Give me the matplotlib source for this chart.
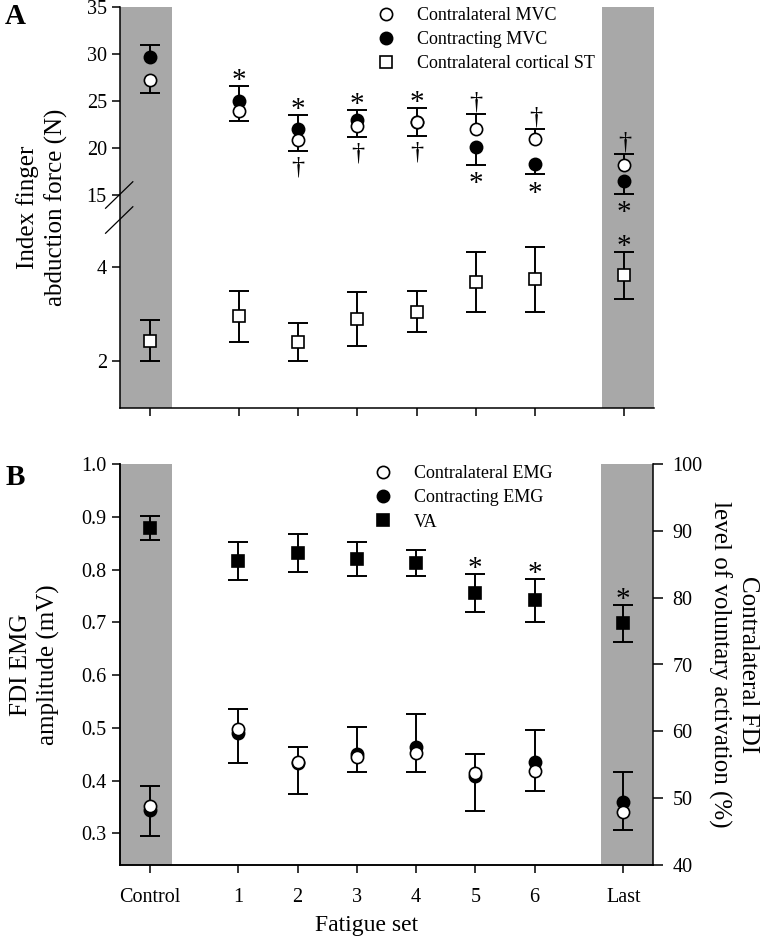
import matplotlib
matplotlib.use('Agg')
import matplotlib.pyplot as plt
import numpy as np

plt.rcParams['font.family'] = ['Liberation Serif', 'DejaVu Serif']

# x layout: control and last set sit apart from the six fatigue sets
x_pos = [-0.5, 1, 2, 3, 4, 5, 6, 7.5]
x_labels = ['Control', '1', '2', '3', '4', '5', '6', 'Last']

# Panel A - index finger abduction force (N)
contra_mvc = [27.2, 23.9, 20.85, 22.3, 22.8, 22.0, 21.0, 18.2]
contra_mvc_lo = [1.4, 1.05, 1.15, 1.1, 1.5, 0, 0, 0]
contra_mvc_hi = [0, 0, 0, 0, 0, 1.6, 1.05, 1.2]
contr_mvc = [29.7, 25.0, 22.0, 23.0, 22.8, 20.1, 18.3, 16.5]
contr_mvc_lo = [0, 0, 0, 0, 0, 1.9, 1.1, 1.4]
contr_mvc_hi = [1.3, 1.6, 1.55, 1.0, 1.5, 0, 0, 0]
st = [2.43, 2.95, 2.40, 2.89, 3.05, 3.68, 3.74, 3.82]
st_err = [0.44, 0.55, 0.41, 0.57, 0.44, 0.64, 0.69, 0.5]
a_above = ['', '*', '*', '*', '*', '\u2020', '\u2020', '\u2020']
a_below = ['', '', '\u2020', '\u2020', '\u2020', '*', '*', '*']
st_above = ['', '', '', '', '', '', '', '*']

# Panel B - EMG (mV) and voluntary activation (%)
emg_contra = [0.352, 0.497, 0.435, 0.445, 0.453, 0.414, 0.419, 0.340]
emg_contra_lo = [0.057, 0.064, 0.061, 0.028, 0.037, 0.072, 0.039, 0.034]
emg_contr = [0.344, 0.491, 0.433, 0.450, 0.464, 0.409, 0.435, 0.360]
emg_contr_hi = [0.046, 0.044, 0.031, 0.051, 0.063, 0.041, 0.061, 0.057]
va = [90.45, 85.5, 86.7, 85.75, 85.2, 80.7, 79.6, 76.15]
va_err = [1.75, 2.9, 2.8, 2.55, 2.0, 2.8, 3.2, 2.75]
b_above = ['', '', '', '', '', '*', '*', '*']

GRAY = '#a8a8a8'
LW = 1.4
MS = 8.8


def err_bars(ax, x, y, lo, hi):
    x, y, lo, hi = [np.asarray(v, float) for v in (x, y, lo, hi)]
    ax.vlines(x, y - lo, y + hi, colors='k', lw=LW, zorder=2)
    for m, yy in ((hi > 0, y + hi), (lo > 0, y - lo)):
        ax.plot(x[m], yy[m], ls='none', marker='_', ms=14.4, mew=LW,
                color='k', zorder=2)


def mark(ax, x, yv, s, above):
    if s == '*':
        off = -1.5 if above else -19.0
        fs = 21
    else:
        off = 3.8 if above else -16.5
        fs = 19
    ax.annotate(s, (x, yv), xytext=(0, off), textcoords='offset points',
                ha='center', va='baseline', fontsize=fs, annotation_clip=False)


def style_x(ax, labels):
    ax.set_xlim(-1, 8)
    ax.set_xticks(x_pos)
    ax.set_xticklabels(labels)
    ax.axvspan(-1, -0.12, color=GRAY, lw=0, zorder=0)
    ax.axvspan(7.12, 8, color=GRAY, lw=0, zorder=0)
    ax.tick_params(direction='out', length=6, width=1.1, labelsize=14.5)
    ax.tick_params(axis='x', pad=10.5)
    ax.spines['top'].set_visible(False)
    for s in ax.spines.values():
        s.set_linewidth(1.1)


fig = plt.figure(figsize=(7.63, 9.38), dpi=100)

# ---------- panel A : broken y axis via a piecewise scale ----------
def fwd(y):
    y = np.asarray(y, float)
    return np.where(y <= 5, (y - 1) * 47.0,
                    np.where(y >= 15, 213.0 + (y - 15) * 9.4, 188.0 + (y - 5) * 2.5))


def inv(p):
    p = np.asarray(p, float)
    return np.where(p <= 188, p / 47.0 + 1,
                    np.where(p >= 213, (p - 213.0) / 9.4 + 15, (p - 188.0) / 2.5 + 5))


axa = fig.add_axes([120 / 763, 1 - 408 / 938, 534 / 763, 401 / 938])
axa.set_yscale('function', functions=(fwd, inv))
axa.set_ylim(1, 35)
axa.set_yticks([2, 4, 15, 20, 25, 30, 35])
axa.set_yticklabels(['2', '4', '15', '20', '25', '30', '35'])
style_x(axa, [''] * len(x_pos))
axa.spines['right'].set_visible(False)

err_bars(axa, x_pos, contr_mvc, contr_mvc_lo, contr_mvc_hi)
err_bars(axa, x_pos, contra_mvc, contra_mvc_lo, contra_mvc_hi)
err_bars(axa, x_pos, st, st_err, st_err)
h2, = axa.plot(x_pos, contr_mvc, 'o', ms=MS, mfc='k', mec='k', mew=1.2,
               zorder=3, label='Contracting MVC')
h1, = axa.plot(x_pos, contra_mvc, 'o', ms=MS, mfc='white', mec='k', mew=1.2,
               zorder=4, label='Contralateral MVC')
h3, = axa.plot(x_pos, st, 's', ms=8.6, mfc='white', mec='k', mew=1.2,
               zorder=4, label='Contralateral cortical ST')

top_a = np.maximum(np.add(contra_mvc, contra_mvc_hi), np.add(contr_mvc, contr_mvc_hi))
bot_a = np.minimum(np.subtract(contra_mvc, contra_mvc_lo), np.subtract(contr_mvc, contr_mvc_lo))
for i, x in enumerate(x_pos):
    if a_above[i]:
        mark(axa, x, top_a[i], a_above[i], True)
    if a_below[i]:
        mark(axa, x, bot_a[i], a_below[i], False)
    if st_above[i]:
        mark(axa, x, st[i] + st_err[i], st_above[i], True)

# break marks on the left spine
tot = fwd(35)
for yb in (15, 5):
    ya = fwd(yb) / tot
    axa.plot([-0.027, 0.024], [ya - 0.033, ya + 0.033], color='k', lw=0.9,
             transform=axa.transAxes, clip_on=False)

axa.set_ylabel('Index finger\nabduction force (N)', fontsize=18, linespacing=1.3)
axa.yaxis.set_label_coords(-0.097, 0.5)
axa.legend(handles=[h1, h2, h3], loc='upper left', bbox_to_anchor=(0.481, 1.0),
           frameon=False, fontsize=13, handlelength=1.0, handletextpad=1.2,
           labelspacing=0.4, borderpad=0, borderaxespad=0)

# ---------- panel B : EMG (left) and VA (right) ----------
axb = fig.add_axes([120 / 763, 1 - 865 / 938, 533 / 763, 401 / 938])
axb.set_ylim(0.24, 1.0)
axb.set_yticks(np.arange(0.3, 1.01, 0.1))
axb.set_yticklabels(['%.1f' % v for v in np.arange(0.3, 1.01, 0.1)])
style_x(axb, x_labels)
axb.spines['right'].set_visible(False)

axv = axb.twinx()
axv.set_ylim(40, 100)
axv.set_yticks(range(40, 101, 10))
axv.tick_params(direction='out', length=7, width=1.1, labelsize=14.5, pad=7)
axv.spines['top'].set_visible(False)
for s in axv.spines.values():
    s.set_linewidth(1.1)

err_bars(axb, x_pos, emg_contr, [0] * 8, emg_contr_hi)
err_bars(axb, x_pos, emg_contra, emg_contra_lo, [0] * 8)
g2, = axb.plot(x_pos, emg_contr, 'o', ms=MS, mfc='k', mec='k', mew=1.2,
               zorder=3, label='Contracting EMG')
g1, = axb.plot(x_pos, emg_contra, 'o', ms=MS, mfc='white', mec='k', mew=1.2,
               zorder=4, label='Contralateral EMG')
err_bars(axv, x_pos, va, va_err, va_err)
g3, = axv.plot(x_pos, va, 's', ms=8.6, mfc='k', mec='k', mew=1.2,
               zorder=4, label='VA')
for i, x in enumerate(x_pos):
    if b_above[i]:
        mark(axv, x, va[i] + va_err[i], b_above[i], True)

axb.set_ylabel('FDI EMG\namplitude (mV)', fontsize=18, linespacing=1.3)
axb.yaxis.set_label_coords(-0.112, 0.5)
axv.set_ylabel('Contralateral FDI\nlevel of voluntary activation (%)', fontsize=18,
               rotation=270, va='bottom', linespacing=1.3)
axv.yaxis.set_label_coords(1.103, 0.5)
axb.set_xlabel('Fatigue set', fontsize=17)
axb.xaxis.set_label_coords(0.463, -0.125)
axv.legend(handles=[g1, g2, g3], loc='upper left', bbox_to_anchor=(0.4765, 0.997),
           frameon=False, fontsize=13, handlelength=1.0, handletextpad=1.2,
           labelspacing=0.4, borderpad=0, borderaxespad=0)

fig.text(5 / 763, 1 - 3 / 938, 'A', fontsize=21, fontweight='bold', va='top')
fig.text(6 / 763, 1 - 464 / 938, 'B', fontsize=21, fontweight='bold', va='top')

fig.savefig('out.png', dpi=100)
